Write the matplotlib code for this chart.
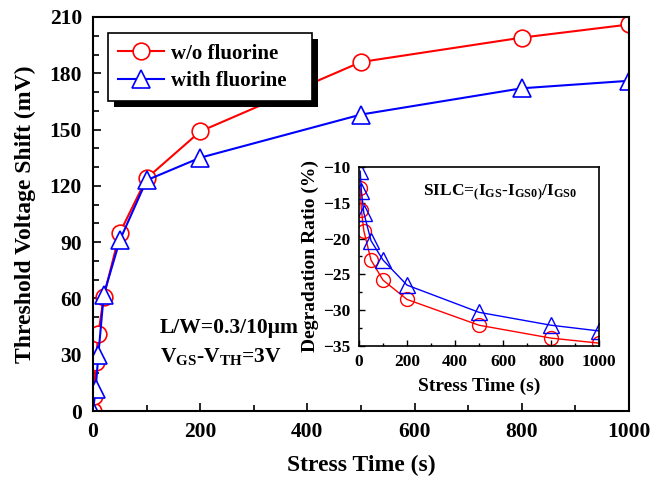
import matplotlib
matplotlib.use('Agg')
import matplotlib.pyplot as plt
from matplotlib.patches import Rectangle
from matplotlib.ticker import MultipleLocator

plt.rcParams['font.family'] = 'Liberation Serif'
plt.rcParams['font.weight'] = 'bold'
plt.rcParams['mathtext.fontset'] = 'custom'
plt.rcParams['mathtext.rm'] = 'Liberation Serif:bold'
plt.rcParams['mathtext.bf'] = 'Liberation Serif:bold'
plt.rcParams['mathtext.it'] = 'Liberation Serif:bold'
plt.rcParams['mathtext.default'] = 'bf'

# main plot: threshold voltage shift (mV) vs stress time (s)
t_wo = [0, 2, 5, 10, 20, 50, 100, 200, 500, 800, 1000]
vth_wo = [0, 8, 26, 41, 61, 95, 124, 149, 186, 199, 206]
t_with = [0, 5, 10, 20, 50, 100, 200, 500, 800, 1000]
vth_with = [0, 12, 30, 62, 91, 123, 135, 158, 172, 176]

# inset: degradation ratio (%) vs stress time (s)
t_in = [5, 10, 20, 50, 100, 200, 500, 800, 1000]
deg_wo = [-13.0, -16.0, -18.9, -23.0, -25.8, -28.5, -32.1, -33.9, -34.6]
deg_with = [-10.6, -13.4, -16.4, -20.3, -23.0, -26.5, -30.3, -32.1, -32.9]

fig = plt.figure(figsize=(6.62, 4.8), dpi=100)
ax = fig.add_axes([0.1405, 0.1437, 0.8095, 0.8209])

ax.plot(t_wo, vth_wo, color='red', lw=1.5, marker='o', ms=12, mfc='white',
        mec='red', mew=1.2, label='w/o fluorine')
ax.plot(t_with, vth_with, color='blue', lw=1.5, marker='^', ms=13, mfc='white',
        mec='blue', mew=1.2, label='with fluorine')

ax.set_xlim(0, 1000)
ax.set_ylim(0, 210)
ax.xaxis.set_major_locator(MultipleLocator(200))
ax.xaxis.set_minor_locator(MultipleLocator(100))
ax.yaxis.set_major_locator(MultipleLocator(30))
ax.yaxis.set_minor_locator(MultipleLocator(10))
ax.tick_params(which='both', direction='in', top=False, right=False,
               labelsize=15.5, width=1.2, pad=8)
ax.tick_params(which='major', length=6)
ax.tick_params(which='minor', length=4)
for s in ax.spines.values():
    s.set_linewidth(1.5)
ax.set_xlabel('Stress Time (s)', fontsize=17, fontweight='bold', labelpad=9)
ax.set_ylabel('Threshold Voltage Shift (mV)', fontsize=17, fontweight='bold', labelpad=10)

leg = ax.legend(loc='upper left', bbox_to_anchor=(0.028, 0.0, 0.381, 0.959),
                mode='expand', fontsize=15,
                fancybox=False, edgecolor='black', framealpha=1,
                handlelength=2.2, handletextpad=0.3, borderpad=0.5,
                labelspacing=0.35, borderaxespad=0)
leg.get_frame().set_linewidth(1.2)

ax.text(0.125, 0.198, 'L/W=0.3/10\u03bcm', transform=ax.transAxes, fontsize=15.5,
        fontweight='bold')
ax.text(0.125, 0.125, r'V$_{GS}$-V$_{TH}$=3V', transform=ax.transAxes, fontsize=15.5,
        fontweight='bold')

# inset
axi = fig.add_axes([0.5423, 0.2792, 0.3625, 0.373])
axi.plot(t_in, deg_wo, color='red', lw=1.0, marker='o', ms=10, mfc='none',
         mec='red', mew=1.0)
axi.plot(t_in, deg_with, color='blue', lw=1.0, marker='^', ms=11, mfc='none',
         mec='blue', mew=1.0)
axi.set_xlim(0, 1000)
axi.set_ylim(-35, -10)
axi.xaxis.set_major_locator(MultipleLocator(200))
axi.xaxis.set_minor_locator(MultipleLocator(100))
axi.yaxis.set_major_locator(MultipleLocator(5))
axi.yaxis.set_minor_locator(MultipleLocator(2.5))
axi.tick_params(which='both', direction='in', top=False, right=False,
                labelsize=12.5, width=1, pad=6)
axi.tick_params(which='major', length=4)
axi.tick_params(which='minor', length=2.5)
for s in axi.spines.values():
    s.set_linewidth(1.2)
axi.set_xlabel('Stress Time (s)', fontsize=14, fontweight='bold', labelpad=5)
axi.set_ylabel('Degradation Ratio (%)', fontsize=14, fontweight='bold', labelpad=3)
axi.text(0.265, 0.84, r'SILC=$_($I$_{GS}$-I$_{GS0}$$_)$/I$_{GS0}$', transform=axi.transAxes,
         fontsize=12.5, fontweight='bold')

# black drop shadow behind the legend box
fig.canvas.draw()
bb = leg.get_window_extent()
ax.add_patch(Rectangle((bb.x0 + 6, bb.y0 - 6), bb.width, bb.height, transform=None,
                       facecolor='black', edgecolor='none', zorder=4.5, clip_on=False))

fig.savefig('out.png', dpi=100)
